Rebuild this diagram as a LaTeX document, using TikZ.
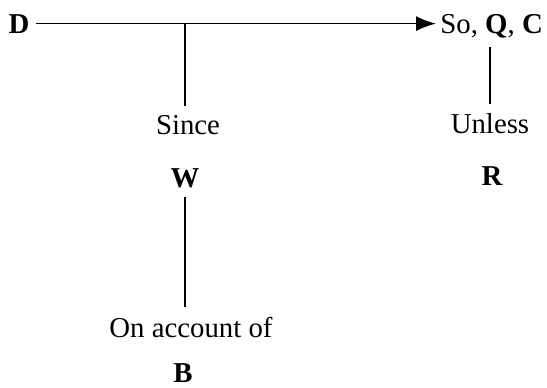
\documentclass[tikz,border=0pt]{standalone}
\usepackage{fontspec}
\setmainfont{Liberation Serif}
\usepackage{tikz}
\usetikzlibrary{arrows.meta}

\begin{document}
\begin{tikzpicture}[>={Latex[length=10pt,width=7.5pt]},
  lbl/.style={anchor=base,inner sep=4.5pt,font=\fontsize{14.4}{17}\selectfont},
  key/.style={lbl,font=\fontsize{14.4}{17}\selectfont\bfseries},
  ln/.style={line width=0.8pt},
  x=0.5pt,y=-0.5pt]
\useasboundingbox (0,0) rectangle (547,387);
% data and claim
\node[key,inner xsep=3pt] (d) at (19,33) {D};
\node[lbl,anchor=base west,inner xsep=2pt] (claim) at (436,33) {So, \textbf{Q}, \textbf{C}};
\draw[ln,->] (d) -- (d -| claim.west);
% warrant and backing
\coordinate (j) at (185,24);
\node[lbl] (since) at (188,134) {Since};
\node[key] (w) at (185,187) {W};
\node[lbl] (acc) at (191,337) {On account of};
\node[key,inner ysep=1pt] (b) at (183,382) {B};
\draw[ln] (j) -- (j |- since.north);
\draw[ln] (w.south -| j) -- (j |- acc.north);
% rebuttal
\node[lbl] (unless) at (490,133) {Unless};
\node[key] (r) at (492,185) {R};
\draw[ln] (unless.north |- claim.south) -- (unless.north);
\end{tikzpicture}
\end{document}
